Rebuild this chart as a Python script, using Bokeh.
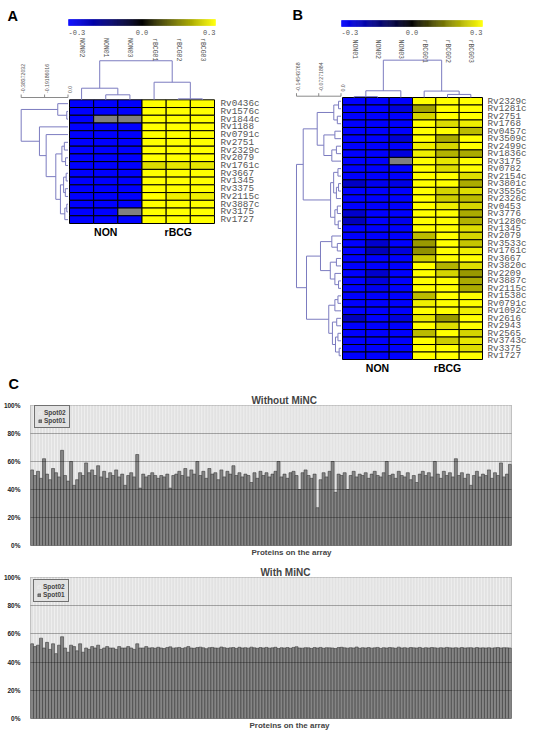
import math
import numpy as np
from bokeh.plotting import figure
from bokeh.models import (Range1d, ColumnDataSource, LinearColorMapper, Title,
                          Legend, LegendItem, FixedTicker)
from bokeh.transform import transform, stack
from bokeh.layouts import column, row
from bokeh.embed import file_html
from bokeh.resources import INLINE
from bokeh.core.properties import value

NaN = float("nan")

# ---------------- Panel A data ----------------
a_columns = ["NON02", "NON01", "NON03", "rBCG01", "rBCG02", "rBCG03"]
a_genes = ["Rv0436c", "Rv1576c", "Rv1844c", "Rv1188", "Rv0791c", "Rv2751", "Rv2329c",
           "Rv2079", "Rv1761c", "Rv3667", "Rv1345", "Rv3375", "Rv2115c", "Rv3887c",
           "Rv3175", "Rv1727"]
a_values = [
    [-0.30, -0.30, -0.30, 0.30, 0.30, 0.30],
    [-0.30, -0.30, -0.30, 0.30, 0.30, 0.30],
    [-0.30, NaN, NaN, 0.30, 0.30, 0.30],
    [-0.30, -0.30, -0.30, 0.30, 0.30, 0.30],
    [-0.30, -0.30, -0.30, 0.30, 0.30, 0.30],
    [-0.30, -0.30, -0.30, 0.30, 0.30, 0.30],
    [-0.30, -0.30, -0.30, 0.30, 0.30, 0.30],
    [-0.30, -0.30, -0.30, 0.30, 0.30, 0.30],
    [-0.30, -0.30, -0.30, 0.26, 0.27, 0.27],
    [-0.30, -0.30, -0.30, 0.30, 0.30, 0.30],
    [-0.30, -0.30, -0.30, 0.30, 0.30, 0.30],
    [-0.30, -0.30, -0.30, 0.30, 0.30, 0.30],
    [-0.30, -0.30, -0.30, 0.30, 0.28, 0.28],
    [-0.30, -0.30, -0.30, 0.30, 0.30, 0.30],
    [-0.30, -0.30, NaN, 0.30, 0.30, 0.30],
    [-0.30, -0.30, -0.30, 0.30, 0.30, 0.30],
]
# (cluster, child, child, distance); integer children are gene / array indices
a_gene_tree = [
    ("g1", 1, 2, 0.010), ("g2", 0, "g1", 0.084), ("g3", 5, 6, 0.030),
    ("g4", 7, 8, 0.020), ("g5", "g3", "g4", 0.050), ("g6", 9, 10, 0.015),
    ("g7", 11, 12, 0.022), ("g8", "g6", "g7", 0.036), ("g9", 13, 14, 0.010),
    ("g10", "g9", 15, 0.026), ("g11", "g8", "g10", 0.062), ("g12", "g5", "g11", 0.100),
    ("g13", 4, "g12", 0.179), ("g14", 3, "g13", 0.234), ("g15", "g2", "g14", 0.38372),
]
a_array_tree = [
    ("c1", 1, 2, 0.041), ("c2", 0, "c1", 0.095), ("c3", 4, 5, 0.008),
    ("c4", 3, "c3", 0.144), ("c5", "c2", "c4", 0.320),
]
a_ruler = [0.38372032, 0.19186016, 0.0]
a_ruler_labels = ["-0.38372032", "-0.19186016", "0.0"]

# ---------------- Panel B data ----------------
b_columns = ["NON01", "NON02", "NON03", "rBCG01", "rBCG02", "rBCG03"]
b_genes = ["Rv2329c", "Rv1281c", "Rv2751", "Rv1768", "Rv0457c", "Rv3509c", "Rv2499c",
           "Rv1836c", "Rv3175", "Rv0782", "Rv2154c", "Rv3801c", "Rv3555c", "Rv2326c",
           "Rv0453", "Rv3776", "Rv1280c", "Rv1345", "Rv2079", "Rv3533c", "Rv1761c",
           "Rv3667", "Rv3820c", "Rv2209", "Rv3887c", "Rv2115c", "Rv1538c", "Rv0791c",
           "Rv1092c", "Rv2616", "Rv2943", "Rv2565", "Rv3743c", "Rv3375", "Rv1727"]
b_values = [
    [-0.30, -0.30, -0.30, 0.30, 0.30, 0.30],
    [-0.30, -0.30, -0.26, 0.19, 0.30, 0.30],
    [-0.30, -0.30, -0.30, 0.25, 0.30, 0.30],
    [-0.30, -0.30, -0.30, 0.30, 0.26, 0.28],
    [-0.30, -0.30, -0.30, 0.30, 0.30, 0.22],
    [-0.30, -0.30, -0.25, 0.30, 0.20, 0.30],
    [-0.30, -0.30, -0.30, 0.28, 0.25, 0.30],
    [-0.30, -0.30, -0.26, 0.28, 0.21, 0.20],
    [-0.30, -0.30, NaN, 0.30, 0.27, 0.30],
    [-0.30, -0.30, -0.30, 0.30, 0.26, 0.30],
    [-0.30, -0.30, -0.30, 0.30, 0.30, 0.26],
    [-0.23, -0.28, -0.27, 0.30, 0.30, 0.20],
    [-0.30, -0.30, -0.30, 0.30, 0.25, 0.26],
    [-0.30, -0.30, -0.30, 0.30, 0.24, 0.22],
    [-0.30, -0.30, -0.30, 0.30, 0.28, 0.25],
    [-0.24, -0.30, -0.30, 0.30, 0.30, 0.20],
    [-0.22, -0.30, -0.28, 0.30, 0.30, 0.21],
    [-0.30, -0.30, -0.30, 0.30, 0.30, 0.26],
    [-0.30, -0.30, -0.30, 0.22, 0.30, 0.25],
    [-0.30, -0.24, -0.30, 0.18, 0.30, 0.23],
    [-0.30, -0.22, -0.26, 0.17, 0.30, 0.28],
    [-0.30, -0.30, -0.30, 0.24, 0.30, 0.30],
    [-0.30, -0.30, -0.30, 0.30, 0.21, 0.26],
    [-0.30, -0.24, -0.30, 0.30, 0.25, 0.18],
    [-0.30, -0.26, -0.30, 0.30, 0.30, 0.20],
    [-0.30, -0.28, -0.30, 0.30, 0.30, 0.20],
    [-0.30, -0.30, -0.30, 0.22, 0.30, 0.30],
    [-0.30, -0.30, -0.30, 0.28, 0.30, 0.30],
    [-0.30, -0.30, -0.30, 0.30, 0.30, 0.28],
    [-0.22, -0.30, -0.26, 0.27, 0.18, 0.30],
    [-0.30, -0.30, -0.30, 0.30, 0.26, 0.30],
    [-0.30, -0.30, -0.30, 0.22, 0.30, 0.25],
    [-0.30, -0.30, -0.30, 0.30, 0.24, 0.27],
    [-0.30, -0.30, -0.30, 0.30, 0.30, 0.26],
    [-0.30, -0.30, -0.30, 0.30, 0.30, 0.30],
]
b_gene_tree = [
    ("u1", 0, 1, 0.008), ("u2", 2, 3, 0.012), ("u3", "u1", "u2", 0.0235),
    ("u4", 4, 5, 0.020), ("u5", 6, 7, 0.015), ("u6", "u5", 8, 0.030),
    ("u7", "u4", "u6", 0.056), ("A1", "u3", "u7", 0.0778),
    ("v1", 9, 10, 0.010), ("v2", 11, 12, 0.008), ("v3", "v2", 13, 0.015),
    ("v4", "v1", "v3", 0.024), ("v5", 14, 15, 0.012), ("v6", 16, 17, 0.009),
    ("v7", "v5", "v6", 0.020), ("A2", "v4", "v7", 0.034), ("U", "A1", "A2", 0.1235),
    ("w1", 19, 20, 0.012), ("w2", 18, "w1", 0.030), ("w3", 21, 22, 0.015),
    ("w4", 24, 25, 0.008), ("w5", 23, "w4", 0.020), ("w6", "w3", "w5", 0.035),
    ("B1", "w2", "w6", 0.067), ("x1", 26, 27, 0.010), ("x2", "x1", 28, 0.020),
    ("x3", 29, 30, 0.014), ("x4", 31, 32, 0.010), ("x5", 33, 34, 0.006),
    ("x6", "x4", "x5", 0.018), ("x7", "x3", "x6", 0.028), ("B2", "x2", "x7", 0.040),
    ("L", "B1", "B2", 0.1127), ("root", "U", "L", 0.14543768),
]
b_array_tree = [
    ("c1", 0, 1, 0.003), ("c2", "c1", 2, 0.022), ("c3", 4, 5, 0.010),
    ("c4", 3, "c3", 0.021), ("c5", "c2", "c4", 0.122),
]
b_ruler = [0.14543768, 0.07271884, 0.0]
b_ruler_labels = ["-0.14543768", "-0.07271884", "0.0"]

groups = ["NON", "rBCG"]
group_members = [[0, 1, 2], [3, 4, 5]]
colorbar_ticks = [-0.3, 0.0, 0.3]
colorbar_labels = ["-0.3", "0.0", "0.3"]

# ---------------- Panel C data (Spot01 share, %) ----------------
series_names = ["Spot02", "Spot01"]
without_minc_spot01 = [
    54, 50, 53, 48, 62, 51, 47, 55, 52, 49,
    68, 50, 46, 60, 43, 47, 52, 50, 59, 52,
    54, 50, 57, 49, 53, 48, 52, 50, 54, 49,
    51, 43, 50, 52, 49, 65, 41, 51, 49, 50,
    52, 50, 48, 50, 49, 51, 41, 50, 51, 53,
    50, 55, 49, 54, 51, 60, 50, 53, 48, 55,
    51, 52, 47, 54, 49, 53, 51, 57, 50, 52,
    49, 51, 50, 45, 52, 48, 53, 50, 52, 49,
    51, 53, 60, 49, 51, 48, 52, 53, 50, 40,
    52, 54, 50, 48, 51, 27, 47, 52, 49, 53,
    60, 38, 51, 50, 52, 40, 50, 53, 49, 51,
    50, 52, 48, 51, 53, 50, 49, 52, 60, 50,
    51, 48, 53, 50, 49, 52, 47, 50, 45, 51,
    53, 50, 52, 49, 60, 51, 48, 53, 50, 52,
    49, 62, 50, 52, 48, 51, 43, 50, 53, 49,
    51, 50, 54, 48, 52, 50, 59, 49, 51, 58,
]
with_minc_spot01 = [
    53, 51, 52, 57, 50, 54, 49, 53, 46, 52,
    58, 50, 47, 52, 51, 48, 53, 47, 50, 49,
    51, 50, 52, 49, 50, 51, 50, 50, 49, 51,
    50, 50, 51, 50, 49, 53, 50, 50, 51, 50,
    50.2, 49.8, 50.5, 50.0, 49.6, 50.3, 50.8, 49.9, 50.1, 50.4,
    49.7, 50.2, 51.0, 50.0, 49.8, 50.3, 50.6, 50.1, 49.5, 50.2,
    50.4, 50.0, 49.9, 50.7, 50.2, 49.8, 50.1, 50.3, 49.7, 50.5,
    50.0, 50.2, 49.9, 50.6, 50.1, 49.8, 50.3, 50.0, 50.4, 49.9,
    50.1, 50.5, 49.6, 50.2, 50.0, 50.3, 49.8, 50.4, 50.9, 50.0,
    49.9, 50.2, 50.1, 49.7, 50.3, 50.0, 50.4, 49.8, 50.2, 50.1,
    50.0, 49.6, 50.3, 50.5, 50.1, 49.9, 50.2, 50.0, 50.7, 49.8,
    50.2, 50.0, 50.3, 49.9, 50.1, 50.4, 49.7, 50.2, 50.0, 50.3,
    50.1, 49.8, 50.6, 50.0, 50.2, 49.9, 50.3, 50.1, 50.0, 50.4,
    49.8, 50.2, 50.0, 50.3, 50.1, 49.9, 50.2, 50.0, 50.4, 50.1,
    50.0, 50.2, 49.9, 50.3, 50.0, 50.1, 50.2, 49.9, 50.3, 50.0,
    50.1, 50.0, 50.2, 49.9, 50.1, 50.3, 50.0, 50.2, 50.1, 50.0,
]
y_ticks = [0, 20, 40, 60, 80, 100]
y_tick_labels = ["0%", "20%", "40%", "60%", "80%", "100%"]
panel_letters = ["A", "B", "C"]

# ---------------- styling ----------------
DEN = "#7c7cc0"
MONO = "Liberation Mono"
SANS = "Liberation Sans"


def ramp(n=256):
    cols = []
    for k in range(n):
        t = k / (n - 1) * 2 - 1
        if t < 0:
            c = (0, 0, int(round(255 * -t)))
        else:
            c = (int(round(255 * t)), int(round(255 * t)), 0)
        cols.append("#%02x%02x%02x" % c)
    return cols


mapper = LinearColorMapper(palette=ramp(), low=-0.3, high=0.3, nan_color="#808080")


def dendro_lines(tree, n_leaves):
    pos = {i: i + 0.5 for i in range(n_leaves)}
    hgt = {i: 0.0 for i in range(n_leaves)}
    hs, ps = [], []
    for name, a, b, h in tree:
        hs.append([hgt[a], h, h, hgt[b]])
        ps.append([pos[a], pos[a], pos[b], pos[b]])
        pos[name] = (pos[a] + pos[b]) / 2
        hgt[name] = h
    return hs, ps


def heat_panel(g, cols, genes, vals, gene_tree, array_tree, ruler, ruler_labels, letters):
    fl, ft, fw, fh = g["fig"]
    hl, ht, hr, hb = g["hm"]
    ncol, nrow = len(cols), len(genes)
    cw = (hr - hl) / ncol
    rh = (hb - ht) / nrow

    def X(px):
        return (px - hl) / cw

    def Y(py):
        return (py - ht) / rh

    p = figure(width=fw, height=fh, x_range=Range1d(X(fl), X(fl + fw)),
               y_range=Range1d(Y(ft + fh), Y(ft)), x_axis_type=None, y_axis_type=None,
               toolbar_location=None, output_backend="svg", min_border=0,
               outline_line_color=None)
    ppu, zx = g["ppu"], g["zero_x"]
    cbl, cbr, cbt, cbb = g["cb"]
    cbs = 0.6 / (cbr - cbl)
    p.extra_x_ranges = {
        "dx": Range1d((zx - fl) / ppu, (zx - fl - fw) / ppu),
        "cb": Range1d(-0.3 - (cbl - fl) * cbs, 0.3 + (fl + fw - cbr) * cbs),
    }
    p.extra_y_ranges = {"dy": Range1d((ht - (ft + fh)) / ppu, (ht - ft) / ppu)}

    # heatmap cells
    xs, ys, vs = [], [], []
    for i, rv in enumerate(vals):
        for j, v in enumerate(rv):
            xs.append(j + 0.5)
            ys.append(i + 0.5)
            vs.append(v)
    src = ColumnDataSource(dict(x=np.array(xs), y=np.array(ys), v=np.array(vs, dtype=float)))
    p.rect(x="x", y="y", width=1, height=1, source=src, fill_color=transform("v", mapper),
           line_color="black", line_width=1)

    # gene dendrogram (left)
    hs, ps = dendro_lines(gene_tree, nrow)
    p.multi_line(xs=hs, ys=ps, x_range_name="dx", line_color=DEN, line_width=1)
    # array dendrogram (top)
    hs, ps = dendro_lines(array_tree, ncol)
    p.multi_line(xs=ps, ys=hs, y_range_name="dy", line_color=DEN, line_width=1)

    # distance ruler
    ry = Y(g["ruler_y"])
    p.segment(x0=[max(ruler)], y0=[ry], x1=[min(ruler)], y1=[ry], x_range_name="dx",
              line_color="#8a8a8a", line_width=1)
    p.segment(x0=ruler, y0=[Y(g["ruler_y"] - 3)] * len(ruler), x1=ruler, y1=[ry] * len(ruler),
              x_range_name="dx", line_color="#8a8a8a", line_width=1)
    p.text(x=ruler, y=[Y(g["ruler_lab"])] * len(ruler), text=ruler_labels, angle=math.pi / 2,
           x_range_name="dx", text_align="left", text_baseline="middle", x_offset=2,
           text_font=value(SANS), text_font_size="5.2px", text_color="#555555")

    # array labels
    p.text(x=[j + 0.5 for j in range(ncol)], y=[Y(g["collab"])] * ncol, text=cols,
           angle=-math.pi / 2, text_align="left", text_baseline="middle",
           text_font=value(MONO), text_font_size="6.5px", text_color="#555555")
    # gene labels
    p.text(x=[X(hr + g["gap"])] * nrow, y=[i + 0.5 for i in range(nrow)], text=genes,
           text_align="left", text_baseline="middle", text_font=value(MONO),
           text_font_size=g["gene_fs"], text_color="#555555")
    # group labels
    gx = [sum(m) / len(m) + 0.5 for m in group_members]
    p.text(x=gx, y=[Y(g["group_y"])] * len(groups), text=groups, text_align="center",
           text_baseline="middle", text_font=value(SANS), text_font_size="10.5px",
           text_font_style="bold", text_color="black")

    # colour scale
    n = 150
    cv = [-0.3 + 0.6 * (k + 0.5) / n for k in range(n)]
    csrc = ColumnDataSource(dict(x=cv, v=cv))
    p.rect(x="x", y=Y((cbt + cbb) / 2), width=0.6 / n, height=(cbb - cbt) / rh, source=csrc,
           x_range_name="cb", fill_color=transform("v", mapper),
           line_color=transform("v", mapper), line_width=0.5)
    for t, lab, al in zip(colorbar_ticks, colorbar_labels, ["left", "center", "right"]):
        p.text(x=[t], y=[Y(g["cb_lab"])], text=[lab], x_range_name="cb", text_align=al,
               text_baseline="middle", text_font=value(MONO), text_font_size="7px",
               text_color="#555555")

    # panel letters (anchored at their top edge)
    lx = [X(px) for px, py in g["letters"]]
    ly = [Y(py) for px, py in g["letters"]]
    p.text(x=lx, y=ly, text=letters, text_align="left",
           text_baseline="top", text_font=value(SANS), text_font_size="14.5px",
           text_font_style="bold", text_color="black")
    return p


geoA = dict(fig=(0, 0, 270, 392), hm=(69, 99.3, 214, 223), ppu=122, zero_x=67.5,
            ruler_y=97, ruler_lab=92.5, collab=37.5, group_y=231.5, cb=(68, 215, 19, 25),
            cb_lab=31.5, letters=[(7, 7), (8, 375.3)], gap=6, gene_fs="9.3px")
geoB = dict(fig=(270, 0, 263, 392), hm=(342, 97, 482, 359), ppu=306, zero_x=340.5,
            ruler_y=95.7, ruler_lab=91, collab=39, group_y=367, cb=(341, 482, 20, 26),
            cb_lab=32, letters=[(292, 6)], gap=5, gene_fs="9.3px")

pa = heat_panel(geoA, a_columns, a_genes, a_values, a_gene_tree, a_array_tree,
                a_ruler, a_ruler_labels, [panel_letters[0], panel_letters[2]])
pb = heat_panel(geoB, b_columns, b_genes, b_values, b_gene_tree, b_array_tree,
                b_ruler, b_ruler_labels, [panel_letters[1]])


def bar_panel(title, spot01, fig_h, b_top, b_bottom, t_off, x_off, legend_xy):
    n = len(spot01)
    src = ColumnDataSource(dict(x=list(range(n)), Spot01=spot01,
                                Spot02=[100 - v for v in spot01]))
    p = figure(width=533, height=fig_h, x_range=Range1d(-0.5, n - 0.5), y_range=Range1d(0, 100),
               x_axis_type=None, toolbar_location=None, output_backend="svg",
               min_border_left=28, min_border_right=22, min_border_top=b_top,
               min_border_bottom=b_bottom, background_fill_color="#e2e2e2",
               outline_line_color="#9a9a9a")
    p.title.text = title
    p.title.align = "left"
    p.title.offset = t_off
    p.title.standoff = 0
    p.title.text_font = SANS
    p.title.text_font_size = "10px"
    p.title.text_font_style = "bold"
    p.add_layout(Title(text="Proteins on the array", align="left", offset=x_off, standoff=1,
                       text_font=SANS, text_font_size="8px", text_font_style="bold"), "below")

    r2 = p.vbar(x="x", bottom=stack("Spot01"), top=stack("Spot01", "Spot02"), width=1,
                source=src, fill_color="#e2e2e2", line_color="#f4f4f4", line_width=0.6)
    r1 = p.vbar(x="x", bottom=0, top=stack("Spot01"), width=1, source=src,
                fill_color="#858585", line_color="#3a3a3a", line_width=0.6)
    p.yaxis.ticker = FixedTicker(ticks=y_ticks)
    p.yaxis.major_label_overrides = dict(zip(y_ticks, y_tick_labels))
    p.yaxis.major_label_text_font = SANS
    p.yaxis.major_label_text_font_size = "6.5px"
    p.yaxis.major_label_text_font_style = "bold"
    p.yaxis.major_label_text_color = "#222222"
    p.yaxis.major_label_standoff = 4
    p.yaxis.axis_line_color = None
    p.yaxis.major_tick_line_color = None
    p.yaxis.minor_tick_line_color = None
    p.ygrid.ticker = FixedTicker(ticks=[20, 40, 60, 80])
    p.ygrid.grid_line_color = "black"
    p.ygrid.grid_line_alpha = 0.3
    p.ygrid.level = "guide"

    legend = Legend(items=[LegendItem(label=series_names[0], renderers=[r2]),
                           LegendItem(label=series_names[1], renderers=[r1])],
                    location=legend_xy, label_text_font=SANS, label_text_font_size="6.5px",
                    label_text_font_style="bold", glyph_width=4, glyph_height=4, label_height=7,
                    label_standoff=2, padding=3, spacing=1, margin=0, border_line_color="black",
                    border_line_width=1, background_fill_color="#e2e2e2",
                    background_fill_alpha=1)
    p.add_layout(legend)
    return p


pc1 = bar_panel("Without MiNC", without_minc_spot01, 168, 0, 15, 221, 221, (4, 117))
pc2 = bar_panel("With MiNC", with_minc_spot01, 175, 17, 17, 230, 219, (3, 116))

layout = column(row(pa, pb), pc1, pc2)
open("out.html", "w").write(file_html(layout, INLINE))
